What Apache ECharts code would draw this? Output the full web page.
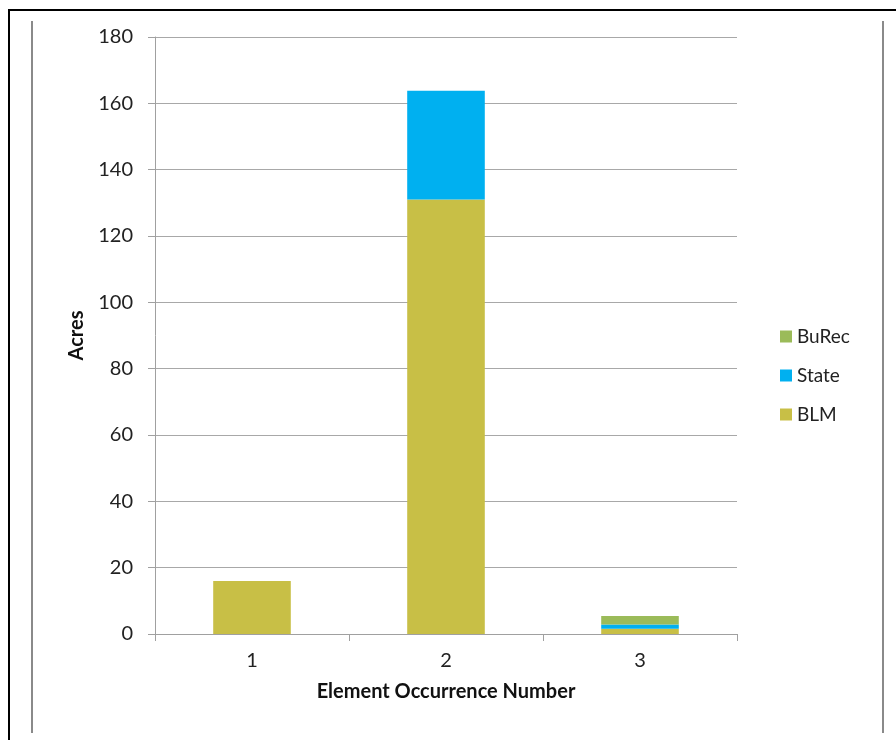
<!DOCTYPE html>
<html><head><meta charset="utf-8">
<script src="https://cdn.jsdelivr.net/npm/echarts@6/dist/echarts.min.js"></script>
<style>html,body{margin:0;padding:0;background:#fff}#c{width:896px;height:740px}</style>
</head><body><div id="c"></div>
<script>
const categories = ['1', '2', '3'];
const blm = [16, 131, 1.6];
const state = [0, 32.8, 1.3];
const burec = [0, 0, 2.5];
const seriesNames = ['BuRec', 'State', 'BLM'];

const FONT = 'Lato, "Open Sans", sans-serif';
const chart = echarts.init(document.getElementById('c'), null, {renderer: 'canvas'});
chart.setOption({
  animation: false,
  backgroundColor: '#fff',
  textStyle: {fontFamily: FONT},
  graphic: [
    {type: 'rect', shape: {x: 9, y: 10, width: 900, height: 760}, style: {fill: 'none', stroke: '#000', lineWidth: 2}, silent: true},
    {type: 'line', shape: {x1: 32, y1: 21, x2: 32, y2: 733}, style: {stroke: '#8a8a8a', lineWidth: 2}, silent: true},
    {type: 'line', shape: {x1: 883, y1: 21, x2: 883, y2: 733}, style: {stroke: '#8a8a8a', lineWidth: 2}, silent: true}
  ],
  grid: {left: 155, right: 159, top: 37, bottom: 106, containLabel: false},
  legend: {
    orient: 'vertical', left: 775, top: 322,
    data: seriesNames,
    icon: 'rect', itemWidth: 12, itemHeight: 12, itemGap: 20,
    textStyle: {fontSize: 19, color: '#222', fontFamily: FONT}
  },
  xAxis: {
    type: 'category', data: categories,
    name: 'Element Occurrence Number', nameLocation: 'middle', nameGap: 48,
    nameTextStyle: {fontSize: 20, fontWeight: 'bold', color: '#111', fontFamily: FONT},
    axisLine: {lineStyle: {color: '#a0a0a0', width: 1}},
    axisTick: {show: true, alignWithLabel: false, length: 7, lineStyle: {color: '#a0a0a0'}},
    axisLabel: {fontSize: 20, color: '#222', margin: 17}
  },
  yAxis: {
    type: 'value', min: 0, max: 180, interval: 20,
    name: 'Acres', nameLocation: 'middle', nameGap: 68,
    nameTextStyle: {fontSize: 20, fontWeight: 'bold', color: '#111', fontFamily: FONT},
    axisLine: {show: true, lineStyle: {color: '#a0a0a0', width: 1}},
    axisTick: {show: true, length: 7, lineStyle: {color: '#a0a0a0'}},
    axisLabel: {fontSize: 20, color: '#222', margin: 22},
    splitLine: {lineStyle: {color: '#a8a8a8', width: 1}}
  },
  series: [
    {name: 'BLM', type: 'bar', stack: 'a', data: blm, barWidth: '40%', itemStyle: {color: '#c8bf46'}},
    {name: 'State', type: 'bar', stack: 'a', data: state, barWidth: '40%', itemStyle: {color: '#00b0f0'}},
    {name: 'BuRec', type: 'bar', stack: 'a', data: burec, barWidth: '40%', itemStyle: {color: '#9bbb59'}}
  ]
});
</script></body></html>
